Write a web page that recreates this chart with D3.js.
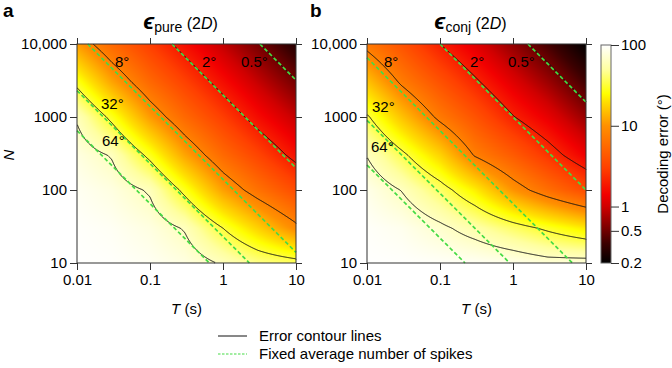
<!DOCTYPE html>
<html>
<head>
<meta charset="utf-8">
<script src="https://cdn.jsdelivr.net/npm/d3@7"></script>
<style>
body { margin: 0; background: #fff; }
text { font-family: "Liberation Sans", Arial, sans-serif; fill: #000; }
</style>
</head>
<body>
<svg id="chart" width="672" height="368"></svg>
<script>
var T_VALUES = [0.01, 0.03, 0.1, 0.3, 1, 3, 10];
var N_VALUES = [10, 30, 100, 300, 1000, 3000, 10000];

// decoding error (deg), one row per N (10 -> 10000), one column per T
var errorPure = [
    [99, 97, 91, 80, 61, 45, 38],
    [97, 92, 80, 62, 32, 17.7, 9.1],
    [91, 80, 61, 28.4, 11.5, 6.3, 3.56],
    [80, 62, 28.4, 12, 5.6, 3.2, 1.7],
    [61, 28.4, 11, 5.5, 2.9, 1.6, 0.91],
    [28.4, 12, 5.5, 3.06, 1.63, 0.93, 0.52],
    [11, 5.5, 2.9, 1.63, 0.89, 0.52, 0.28]
];
var errorConj = [
    [99, 98, 95, 92, 85, 75, 76],
    [96, 88, 70, 54, 39, 29.5, 21.6],
    [85, 63, 39, 22.4, 10.3, 6.0, 3.55],
    [63, 35.6, 18, 7.7, 4.5, 2.6, 1.36],
    [34, 15.5, 7.1, 4.0, 2.06, 1.26, 0.66],
    [15.7, 7.4, 3.9, 2.2, 1.17, 0.69, 0.36],
    [6.9, 3.9, 2.0, 1.17, 0.63, 0.37, 0.2]
];

var CONTOUR_LEVELS = [0.5, 2, 8, 32, 64];
// fixed average number of spikes (N * T) of the green lines
var SPIKES_PURE = [6.5, 23, 140, 2000, 32000];
var SPIKES_CONJ = [2.2, 9, 65, 1000, 16000];

var X_TICKS = [0.01, 0.1, 1, 10];
var X_TICK_LABELS = ['0.01', '0.1', '1', '10'];
var Y_TICKS = [10, 100, 1000, 10000];
var Y_TICK_LABELS = ['10', '100', '1000', '10,000'];
var CB_TICKS = [0.2, 0.5, 1, 10, 100];
var CB_TICK_LABELS = ['0.2', '0.5', '1', '10', '100'];

// colour map stops
var CMAP_VALUES = [0.2, 0.35, 0.5, 1, 1.4, 3, 10, 20, 25, 50, 100];
var CMAP_COLORS = ['#000000', '#3c0000', '#700000', '#d00000', '#f20000', '#ff4000',
    '#ff9000', '#ffe000', '#ffff00', '#ffffa0', '#ffffff'];

var color = d3.scaleLog().domain(CMAP_VALUES).range(CMAP_COLORS)
    .interpolate(d3.interpolateRgb).clamp(true);

var tIndex = d3.scaleLog().domain(T_VALUES).range(d3.range(T_VALUES.length)).clamp(true);
var nIndex = d3.scaleLog().domain(N_VALUES).range(d3.range(N_VALUES.length)).clamp(true);

// log10 of the error, bilinear between the read grid points
function logErrorAt(grid, T, N) {
    var fx = tIndex(T), fy = nIndex(N);
    var i = Math.min(Math.floor(fx), T_VALUES.length - 2);
    var j = Math.min(Math.floor(fy), N_VALUES.length - 2);
    var u = fx - i, v = fy - j;
    var l = function(a, b) { return Math.log10(grid[b][a]); };
    return (1 - u) * (1 - v) * l(i, j) + u * (1 - v) * l(i + 1, j)
        + (1 - u) * v * l(i, j + 1) + u * v * l(i + 1, j + 1);
}

var svg = d3.select('#chart');
var W = 219, H = 219, TOP = 44;
var green = '#44db44';

function drawPanel(x0, grid, spikes, letter, sub, labels) {
    var x = d3.scaleLog().domain([0.01, 10]).range([0, W]);
    var y = d3.scaleLog().domain([10, 10000]).range([H, 0]);
    var g = svg.append('g').attr('transform', 'translate(' + x0 + ',' + TOP + ')');

    // heat map
    var canvas = document.createElement('canvas');
    canvas.width = W; canvas.height = H;
    var ctx = canvas.getContext('2d');
    var img = ctx.createImageData(W, H);
    var values = new Array(W * H);
    for (var py = 0; py < H; py++) {
        for (var px = 0; px < W; px++) {
            var le = logErrorAt(grid, x.invert(px + 0.5), y.invert(py + 0.5));
            values[py * W + px] = le;
            var c = d3.rgb(color(Math.pow(10, le)));
            var k = (py * W + px) * 4;
            img.data[k] = c.r; img.data[k + 1] = c.g; img.data[k + 2] = c.b; img.data[k + 3] = 255;
        }
    }
    ctx.putImageData(img, 0, 0);
    g.append('image').attr('width', W).attr('height', H)
        .attr('href', canvas.toDataURL());

    // error contour lines
    var contours = d3.contours().size([W, H])
        .thresholds(CONTOUR_LEVELS.map(Math.log10))(values);
    var onEdge = function(p) { return p[0] <= 0 || p[0] >= W || p[1] <= 0 || p[1] >= H; };
    contours.forEach(function(cont) {
        var d = '';
        cont.coordinates.forEach(function(poly) {
            poly.forEach(function(ring) {
                var pen = false;
                for (var i = 1; i < ring.length; i++) {
                    var a = ring[i - 1], b = ring[i];
                    if (onEdge(a) && onEdge(b)) { pen = false; continue; }
                    if (!pen) { d += 'M' + a[0] + ',' + a[1]; pen = true; }
                    d += 'L' + b[0] + ',' + b[1];
                }
            });
        });
        g.append('path').attr('d', d).attr('fill', 'none')
            .attr('stroke', '#111').attr('stroke-width', 1);
    });

    // fixed spike count lines
    var line = d3.line().x(function(d) { return x(d[0]); }).y(function(d) { return y(d[1]); });
    spikes.forEach(function(s) {
        var t1 = Math.max(0.01, s / 10000), t2 = Math.min(10, s / 10);
        g.append('path').attr('d', line([[t1, s / t1], [t2, s / t2]]))
            .attr('fill', 'none').attr('stroke', green)
            .attr('stroke-width', 1.7).attr('stroke-dasharray', '4,2.5');
    });

    // frame and axes
    g.append('rect').attr('width', W).attr('height', H)
        .attr('fill', 'none').attr('stroke', '#333').attr('stroke-width', 1);

    var fx = function(d) { return X_TICK_LABELS[X_TICKS.indexOf(d)]; };
    var fy = function(d) { return Y_TICK_LABELS[Y_TICKS.indexOf(d)]; };
    var style = function(a) {
        a.select('.domain').remove();
        a.selectAll('line').attr('stroke', '#333');
        a.selectAll('text').style('font-size', '15px');
    };
    g.append('g').attr('transform', 'translate(0,' + H + ')')
        .call(d3.axisBottom(x).tickValues(X_TICKS).tickFormat(fx).tickSize(7).tickPadding(4))
        .call(style);
    g.append('g')
        .call(d3.axisLeft(y).tickValues(Y_TICKS).tickFormat(fy).tickSize(7).tickPadding(3))
        .call(style);
    g.append('g')
        .call(d3.axisTop(x).tickValues(X_TICKS).tickFormat('').tickSize(6))
        .call(style);
    g.append('g').attr('transform', 'translate(' + W + ',0)')
        .call(d3.axisRight(y).tickValues(Y_TICKS).tickFormat('').tickSize(6))
        .call(style);

    // contour labels
    labels.forEach(function(l) {
        g.append('text').attr('x', l[1]).attr('y', l[2])
            .style('font-size', '15px').text(l[0]);
    });

    // title
    var title = g.append('text').attr('x', W / 2 - 6).attr('y', -15)
        .attr('text-anchor', 'middle');
    title.append('tspan').text('\u03f5').style('font-size', '23px')
        .style('font-weight', 'bold').style('font-style', 'italic');
    title.append('tspan').text(sub).style('font-size', '14px').attr('dy', 3);
    title.append('tspan').text(' (2').style('font-size', '16px').attr('dy', -3);
    title.append('tspan').text('D').style('font-size', '16px').style('font-style', 'italic');
    title.append('tspan').text(')').style('font-size', '16px');

    // x label
    var xl = g.append('text').attr('x', W / 2).attr('y', H + 51)
        .attr('text-anchor', 'middle').style('font-size', '15px');
    xl.append('tspan').text('T').style('font-style', 'italic');
    xl.append('tspan').text(' (s)');

    svg.append('text').attr('x', letter[1]).attr('y', 17)
        .style('font-size', '19px').style('font-weight', 'bold').text(letter[0]);
}

drawPanel(77, errorPure, SPIKES_PURE, ['a', 3], 'pure',
    [['8\u00b0', 38, 23], ['2\u00b0', 125, 23], ['0.5\u00b0', 164, 23],
     ['32\u00b0', 24, 65], ['64\u00b0', 25, 102]]);
drawPanel(367, errorConj, SPIKES_CONJ, ['b', 310], 'conj',
    [['8\u00b0', 17, 23], ['2\u00b0', 103, 23], ['0.5\u00b0', 141, 23],
     ['32\u00b0', 5, 68], ['64\u00b0', 4, 108]]);

// y label
svg.append('text').attr('transform', 'translate(14,155) rotate(-90)')
    .attr('text-anchor', 'middle').style('font-size', '15px')
    .style('font-style', 'italic').text('N');

// colour bar
var cb = d3.scaleLog().domain([0.2, 100]).range([263, 45]);
var grad = svg.append('defs').append('linearGradient').attr('id', 'cbgrad')
    .attr('x1', 0).attr('y1', 1).attr('x2', 0).attr('y2', 0);
var off = d3.scaleLog().domain([0.2, 100]).range([0, 1]);
CMAP_VALUES.forEach(function(v, i) {
    grad.append('stop').attr('offset', off(v)).attr('stop-color', CMAP_COLORS[i]);
});
svg.append('rect').attr('x', 601).attr('y', 45).attr('width', 10).attr('height', 218)
    .attr('fill', 'url(#cbgrad)').attr('stroke', '#666').attr('stroke-width', 1);
svg.append('g').attr('transform', 'translate(611,0)')
    .call(d3.axisRight(cb).tickValues(CB_TICKS)
        .tickFormat(function(d) { return CB_TICK_LABELS[CB_TICKS.indexOf(d)]; })
        .tickSize(8).tickPadding(2))
    .call(function(a) {
        a.select('.domain').remove();
        a.selectAll('line').attr('stroke', '#333');
        a.selectAll('text').style('font-size', '15px');
    });
svg.append('text').attr('transform', 'translate(668,154) rotate(-90)')
    .attr('text-anchor', 'middle').style('font-size', '15px').text('Decoding error (\u00b0)');

// legend
var leg = svg.append('g');
leg.append('line').attr('x1', 218).attr('x2', 247).attr('y1', 336).attr('y2', 336)
    .attr('stroke', '#111').attr('stroke-width', 1);
leg.append('text').attr('x', 259).attr('y', 341).style('font-size', '15px').text('Error contour lines');
leg.append('line').attr('x1', 218).attr('x2', 247).attr('y1', 354).attr('y2', 354)
    .attr('stroke', green).attr('stroke-width', 1.2).attr('stroke-dasharray', '2.5,1.5');
leg.append('text').attr('x', 259).attr('y', 359).style('font-size', '15px')
    .text('Fixed average number of spikes');
</script>
</body>
</html>
